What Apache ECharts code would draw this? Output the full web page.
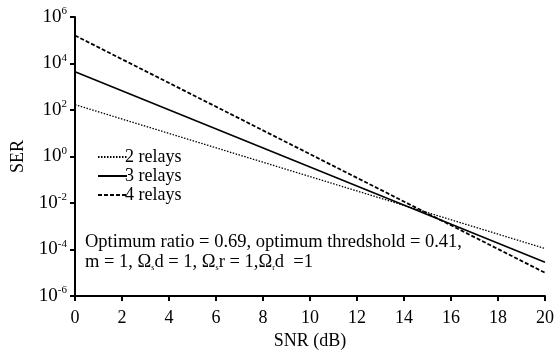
<!DOCTYPE html>
<html><head><meta charset="utf-8">
<script src="https://cdn.jsdelivr.net/npm/echarts@6/dist/echarts.min.js"></script>
<style>html,body{margin:0;padding:0;background:#fff}#c{width:559px;height:358px}</style>
</head><body><div id="c"></div>
<script>
// Data (straight lines on log scale)
const snrDb = [0, 20];
const relays2 = [170, 1.1e-4];
const relays3 = [4400, 2.8e-5];
const relays4 = [1.6e5, 1.0e-5];
const seriesNames = ['2 relays', '3 relays', '4 relays'];
const xTicks = [0, 2, 4, 6, 8, 10, 12, 14, 16, 18, 20];
const yExpTicks = [-6, -4, -2, 0, 2, 4, 6];

const FONT = '"Liberation Serif", "DejaVu Serif", serif';
const chart = echarts.init(document.getElementById('c'));
const pairs = a => snrDb.map((x, i) => [x, a[i]]);
chart.setOption({
  animation: false,
  backgroundColor: '#fff',
  grid: { left: 75, right: 14, top: 17, bottom: 62 },
  xAxis: {
    type: 'value', min: xTicks[0], max: xTicks[xTicks.length - 1], interval: 2,
    name: 'SNR (dB)', nameLocation: 'middle', nameGap: 35,
    nameTextStyle: { fontFamily: FONT, fontSize: 18, color: '#000' },
    axisLine: { lineStyle: { color: '#000', width: 2 } },
    axisTick: { length: 5, lineStyle: { color: '#000', width: 2 } },
    axisLabel: { fontFamily: FONT, fontSize: 18, color: '#000', margin: 13 },
    splitLine: { show: false }
  },
  yAxis: {
    type: 'log', logBase: 10, min: Math.pow(10, yExpTicks[0]), max: Math.pow(10, yExpTicks[yExpTicks.length - 1]), interval: 2,
    name: 'SER', nameLocation: 'middle', nameGap: 48, nameRotate: 90,
    nameTextStyle: { fontFamily: FONT, fontSize: 18, color: '#000' },
    axisLine: { lineStyle: { color: '#000', width: 2 } },
    axisTick: { length: 5, lineStyle: { color: '#000', width: 2 } },
    axisLabel: {
      fontFamily: FONT, fontSize: 19, color: '#000', margin: 8,
      formatter: v => '10{sup|' + Math.round(Math.log10(v)) + '}',
      rich: { sup: { fontFamily: FONT, fontSize: 11, color: '#000', padding: [0, 0, 11, 0] } }
    },
    splitLine: { show: false },
    minorTick: { show: false }
  },
  legend: {
    orient: 'vertical', left: 92, top: 143, itemGap: 1, itemWidth: 29, itemHeight: 15,
    itemStyle: { opacity: 0 },
    textStyle: { fontFamily: FONT, fontSize: 18, lineHeight: 17, color: '#000', padding: [0, 0, 0, -7] },
    data: seriesNames
  },
  series: [
    { name: seriesNames[0], type: 'line', data: pairs(relays2), showSymbol: false, symbol: 'none',
      lineStyle: { color: '#000', width: 1.3, type: [1.5, 1.5] }, itemStyle: { color: '#000' } },
    { name: seriesNames[1], type: 'line', data: pairs(relays3), showSymbol: false, symbol: 'none',
      lineStyle: { color: '#000', width: 1.6, type: 'solid' }, itemStyle: { color: '#000' } },
    { name: seriesNames[2], type: 'line', data: pairs(relays4), showSymbol: false, symbol: 'none',
      lineStyle: { color: '#000', width: 1.8, type: [4, 2] }, itemStyle: { color: '#000' } }
  ],
  graphic: [
    { type: 'text', left: 85, top: 233, style: { text: 'Optimum ratio = 0.69, optimum thredshold = 0.41,', font: '18.5px ' + FONT, fill: '#000' } },
    { type: 'text', left: 85, top: 253, style: {
      text: 'm = 1, Ω{sub|s}d = 1, Ω{sub|s}r = 1,Ω{sub|r}d  =1',
      font: '18.5px ' + FONT, fill: '#000',
      rich: { sub: { fontFamily: FONT, fontSize: 8, fill: '#000', padding: [10, 0, 0, 0] } }
    } }
  ]
});
</script></body></html>
